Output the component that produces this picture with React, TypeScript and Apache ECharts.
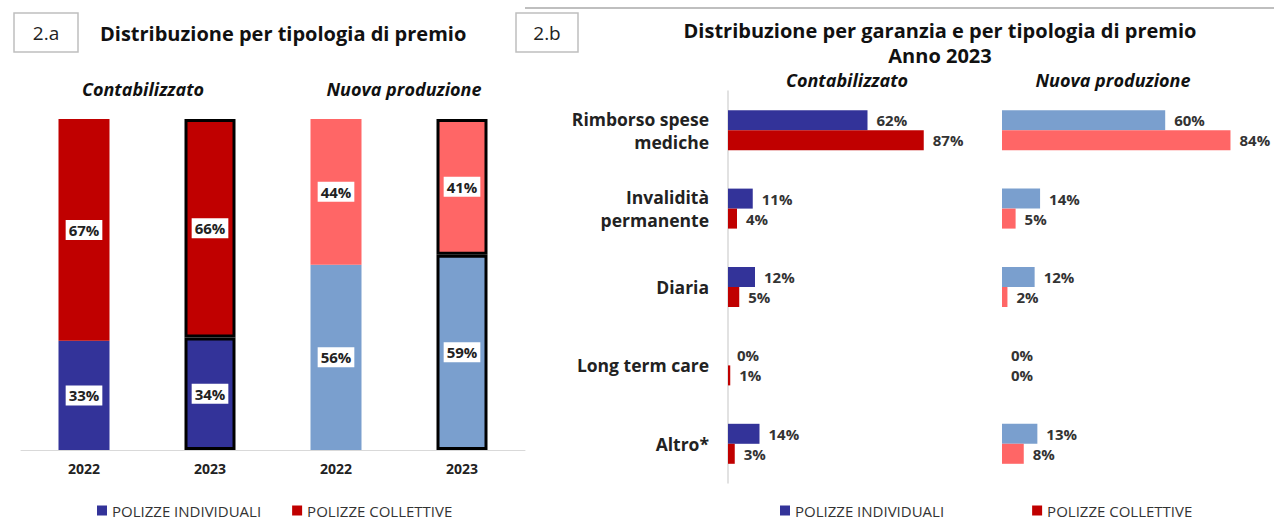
import React, { useEffect, useRef } from "react";
import * as echarts from "echarts";

// ---- Data ----
const periodCategories = ["C2022", "C2023", "N2022", "N2023"];
const individualShare = [33, 34, 56, 59];
const collectiveShare = [67, 66, 44, 41];

const guarantees = [
  "Rimborso spese\nmediche",
  "Invalidità\npermanente",
  "Diaria",
  "Long term care",
  "Altro*",
];
const contabIndividual = [62, 11, 12, 0, 14];
const contabCollective = [87, 4, 5, 1, 3];
const nuovaIndividual = [60, 14, 12, 0, 13];
const nuovaCollective = [84, 5, 2, 0, 8];

const legendNames = ["POLIZZE INDIVIDUALI", "POLIZZE COLLETTIVE"];

// ---- Styles ----
const DARK_BLUE = "#333399";
const DARK_RED = "#C00000";
const LIGHT_BLUE = "#7A9FCE";
const LIGHT_RED = "#FF6666";
const FONT = "Open Sans";

export default function App() {
  const ref = useRef<HTMLDivElement>(null);

  useEffect(() => {
    if (!ref.current) return;
    const chart = echarts.init(ref.current, undefined, { renderer: "svg" });

    const stackLabel = {
      show: true,
      position: "inside",
      formatter: "{c}%",
      backgroundColor: "#fff",
      padding: [3, 3, 2, 3],
      fontWeight: "bold",
      fontSize: 15,
      color: "#222",
      fontFamily: FONT,
    };

    const mkStack = (vals: number[], dark: string, light: string) =>
      vals.map((v, i) => ({
        value: v,
        itemStyle: {
          color: i < 2 ? dark : light,
          borderColor: i % 2 === 1 ? "#000" : "transparent",
          borderWidth: i % 2 === 1 ? 3 : 0,
        },
      }));

    const hLabel = {
      show: true,
      position: "right",
      distance: 9,
      formatter: "{c}%",
      fontWeight: "bold",
      fontSize: 15,
      color: "#333",
      fontFamily: FONT,
    };

    const titleStyle = { fontFamily: FONT, fontWeight: "bold", fontSize: 20, fill: "#111" };
    const subStyle = { fontFamily: FONT, fontWeight: "bold", fontStyle: "italic", fontSize: 18, fill: "#111" };
    const legendText = { fontSize: 15, color: "#333", fontFamily: FONT };

    chart.setOption({
      animation: false,
      textStyle: { fontFamily: FONT },
      grid: [
        { left: 21, top: 119, width: 504, height: 331 },
        { left: 728, top: 91, width: 225, height: 392 },
        { left: 1002, top: 91, width: 274, height: 392 },
      ],
      xAxis: [
        {
          gridIndex: 0,
          type: "category",
          data: periodCategories,
          axisLine: { lineStyle: { color: "#d9d9d9", width: 1 } },
          axisTick: { show: false },
          axisLabel: {
            formatter: (v: string) => v.slice(1),
            fontWeight: "bold",
            fontSize: 14,
            color: "#222",
            margin: 11,
          },
        },
        { gridIndex: 1, type: "value", min: 0, max: 100, show: false },
        { gridIndex: 2, type: "value", min: 0, max: 100, show: false },
      ],
      yAxis: [
        { gridIndex: 0, type: "value", min: 0, max: 100, show: false },
        {
          gridIndex: 1,
          type: "category",
          inverse: true,
          data: guarantees,
          axisLine: { lineStyle: { color: "#d9d9d9", width: 1.5 } },
          axisTick: { show: false },
          axisLabel: {
            fontWeight: "bold",
            fontSize: 17.5,
            color: "#222",
            margin: 19,
            lineHeight: 23,
            align: "right",
          },
        },
        {
          gridIndex: 2,
          type: "category",
          inverse: true,
          data: guarantees,
          show: false,
        },
      ],
      legend: [
        {
          data: legendNames,
          left: 92,
          top: 498,
          icon: "rect",
          itemWidth: 10,
          itemHeight: 10,
          itemGap: 31,
          selectedMode: false,
          textStyle: legendText,
        },
        {
          data: legendNames,
          left: 775,
          top: 498,
          icon: "rect",
          itemWidth: 10,
          itemHeight: 10,
          itemGap: 88,
          selectedMode: false,
          textStyle: legendText,
        },
      ],
      series: [
        {
          name: legendNames[0],
          type: "bar",
          xAxisIndex: 0,
          yAxisIndex: 0,
          stack: "a",
          barWidth: 51,
          itemStyle: { color: DARK_BLUE },
          data: mkStack(individualShare, DARK_BLUE, LIGHT_BLUE),
          label: stackLabel,
        },
        {
          name: legendNames[1],
          type: "bar",
          xAxisIndex: 0,
          yAxisIndex: 0,
          stack: "a",
          barWidth: 51,
          itemStyle: { color: DARK_RED },
          data: mkStack(collectiveShare, DARK_RED, LIGHT_RED),
          label: stackLabel,
        },
        {
          name: legendNames[0],
          type: "bar",
          xAxisIndex: 1,
          yAxisIndex: 1,
          barWidth: 20,
          barGap: "0%",
          itemStyle: { color: DARK_BLUE },
          data: contabIndividual,
          label: hLabel,
        },
        {
          name: legendNames[1],
          type: "bar",
          xAxisIndex: 1,
          yAxisIndex: 1,
          barWidth: 20,
          barGap: "0%",
          itemStyle: { color: DARK_RED },
          data: contabCollective,
          label: hLabel,
        },
        {
          name: legendNames[0],
          type: "bar",
          xAxisIndex: 2,
          yAxisIndex: 2,
          barWidth: 20,
          barGap: "0%",
          itemStyle: { color: LIGHT_BLUE },
          data: nuovaIndividual,
          label: hLabel,
        },
        {
          name: legendNames[1],
          type: "bar",
          xAxisIndex: 2,
          yAxisIndex: 2,
          barWidth: 20,
          barGap: "0%",
          itemStyle: { color: LIGHT_RED },
          data: nuovaCollective,
          label: hLabel,
        },
      ],
      graphic: [
        {
          type: "rect",
          shape: { x: 14, y: 13, width: 64, height: 39 },
          style: { fill: "#fff", stroke: "#bfbfbf", lineWidth: 1.5 },
        },
        {
          type: "text",
          x: 46,
          y: 33,
          style: { text: "2.a", fontFamily: FONT, fontSize: 19, fill: "#222", align: "center", verticalAlign: "middle" },
        },
        {
          type: "text",
          x: 100,
          y: 33,
          style: { ...titleStyle, text: "Distribuzione per tipologia di premio", align: "left", verticalAlign: "middle" },
        },
        {
          type: "text",
          x: 143,
          y: 89,
          style: { ...subStyle, text: "Contabilizzato", align: "center", verticalAlign: "middle" },
        },
        {
          type: "text",
          x: 404,
          y: 89,
          style: { ...subStyle, text: "Nuova produzione", align: "center", verticalAlign: "middle" },
        },
        {
          type: "line",
          shape: { x1: 525, y1: 8, x2: 1274, y2: 8 },
          style: { stroke: "#bfbfbf", lineWidth: 2 },
        },
        {
          type: "rect",
          shape: { x: 516, y: 13, width: 62, height: 39 },
          style: { fill: "#fff", stroke: "#bfbfbf", lineWidth: 1.5 },
        },
        {
          type: "text",
          x: 547,
          y: 33,
          style: { text: "2.b", fontFamily: FONT, fontSize: 19, fill: "#222", align: "center", verticalAlign: "middle" },
        },
        {
          type: "text",
          x: 940,
          y: 30,
          style: { ...titleStyle, text: "Distribuzione per garanzia e per tipologia di premio", align: "center", verticalAlign: "middle" },
        },
        {
          type: "text",
          x: 940,
          y: 55,
          style: { ...titleStyle, text: "Anno 2023", align: "center", verticalAlign: "middle" },
        },
        {
          type: "text",
          x: 847,
          y: 80,
          style: { ...subStyle, text: "Contabilizzato", align: "center", verticalAlign: "middle" },
        },
        {
          type: "text",
          x: 1113,
          y: 80,
          style: { ...subStyle, text: "Nuova produzione", align: "center", verticalAlign: "middle" },
        },
      ],
    });

    return () => chart.dispose();
  }, []);

  return (
    <div
      ref={ref}
      style={{ position: "fixed", left: 0, top: 0, width: 1274, height: 521, background: "#fff" }}
    />
  );
}
